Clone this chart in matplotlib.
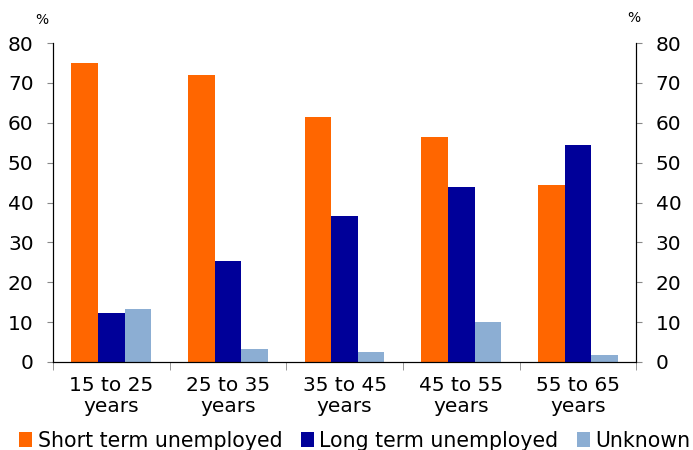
import matplotlib.pyplot as plt
import numpy as np

categories = ["15 to 25\nyears", "25 to 35\nyears", "35 to 45\nyears", "45 to 55\nyears", "55 to 65\nyears"]
short_term = [75.0, 72.0, 61.5, 56.5, 44.5]
long_term = [12.3, 25.3, 36.5, 44.0, 54.3]
unknown = [13.3, 3.2, 2.5, 10.0, 1.7]
series_names = ["Short term unemployed", "Long term unemployed", "Unknown"]
colors = ["#ff6600", "#000099", "#8caed3"]

fig = plt.figure(figsize=(6.93, 4.5), dpi=100)
ax = fig.add_axes([0.0765, 0.1956, 0.8415, 0.7088])

x = np.arange(len(categories))
width = 0.228
bars = []
for i, vals in enumerate([short_term, long_term, unknown]):
    b = ax.bar(x + (i - 1) * width, vals, width, color=colors[i], label=series_names[i])
    bars.append(b)

ax.set_xlim(-0.5, len(categories) - 0.5)
ax.set_ylim(0, 80)
ax.set_yticks(range(0, 81, 10))
ax.tick_params(axis='y', labelsize=14.5, length=4, color='#888888', direction='out', pad=10)

# category labels centered, ticks at group boundaries
ax.set_xticks(x)
ax.set_xticklabels(categories, fontsize=14.5, linespacing=1.15)
ax.tick_params(axis='x', which='major', length=0, pad=10)
ax.set_xticks(np.arange(-0.5, len(categories), 1), minor=True)
ax.tick_params(axis='x', which='minor', length=6, color='#888888', direction='out')

ax.spines['top'].set_visible(False)

ax2 = ax.twinx()
ax2.set_ylim(0, 80)
ax2.set_yticks(range(0, 81, 10))
ax2.tick_params(axis='y', labelsize=14.5, length=4, color='#888888', direction='out', pad=10)
ax2.spines['top'].set_visible(False)

fig.text(0.06, 0.955, "%", fontsize=10, ha='center', va='center')
fig.text(0.915, 0.96, "%", fontsize=10, ha='center', va='center')

fig.legend(handles=bars, labels=series_names, loc='lower center', bbox_to_anchor=(0.512, -0.02),
           ncol=3, frameon=False, fontsize=14.8, handlelength=0.65, handleheight=0.75,
           handletextpad=0.25, columnspacing=0.9, borderaxespad=0.0)

fig.savefig("out.png", dpi=100)
